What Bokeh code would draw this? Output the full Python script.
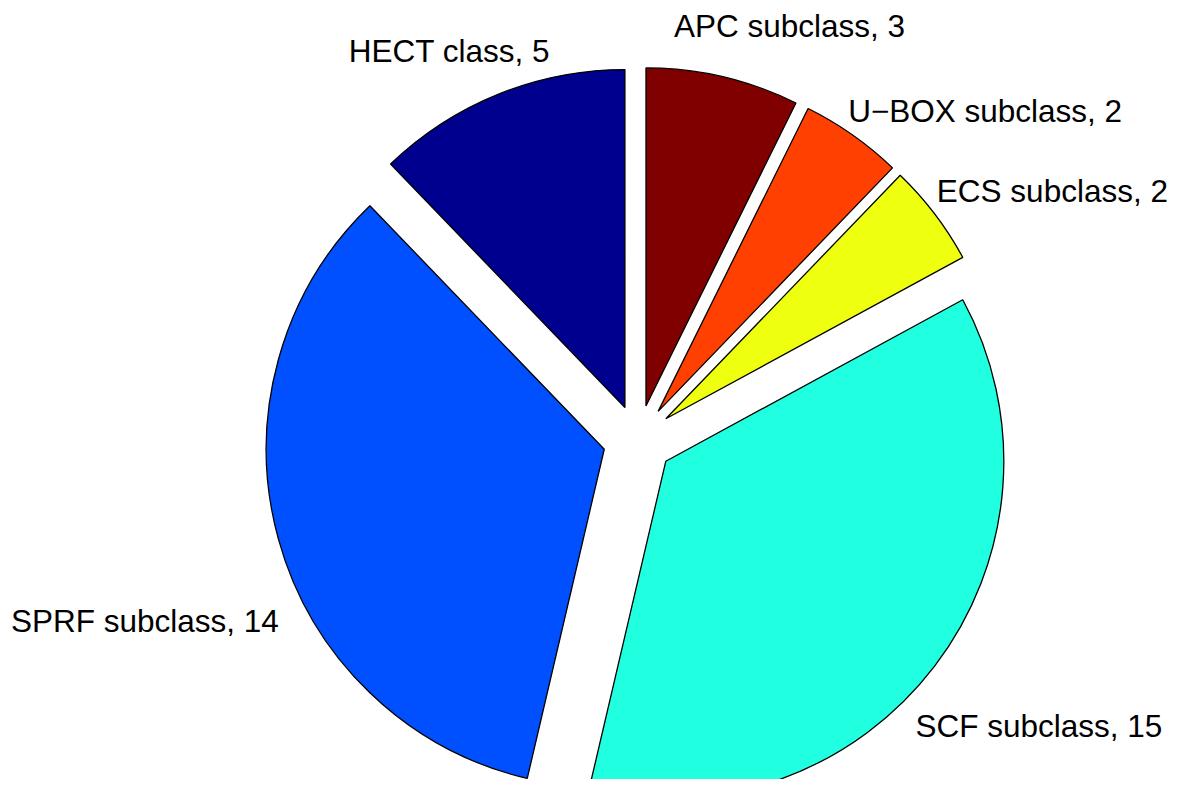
import numpy as np
from bokeh.plotting import figure
from bokeh.models import ColumnDataSource, Range1d
from bokeh.core.properties import value
from bokeh.embed import file_html
from bokeh.resources import INLINE

# ---- data (MATLAB pie order: counter-clockwise from the top) ----
categories = ["HECT class", "SPRF subclass", "SCF subclass", "ECS subclass", "U\u2212BOX subclass", "APC subclass"]
counts = [5, 14, 15, 2, 2, 3]
colors = ["#00008F", "#0050FF", "#20FFDF", "#EFFF10", "#FF4000", "#800000"]

# ---- layout ----
R_PX = 338.0            # pie radius in pixels
EXPLODE = 0.1035        # explode offset (fraction of radius)
W, H = 1168, 779
CX, CY = 637.5, 439.5   # pie centre in figure pixels (from left, from top)
# label anchors (centre / baseline), in radius units relative to the pie centre
LABEL_DY = 0.034
label_pos = [(-0.558, 1.118), (-1.459, -0.570), (1.186, -0.881),
             (1.226, 0.704), (1.027, 0.939), (0.448, 1.190)]

vals = np.array(counts, dtype=float)
frac = vals / vals.sum()
ends = np.pi / 2 + 2 * np.pi * np.cumsum(frac)
starts = ends - 2 * np.pi * frac
mids = (starts + ends) / 2

src = ColumnDataSource(dict(
    x=EXPLODE * np.cos(mids), y=EXPLODE * np.sin(mids),
    start=starts, end=ends, color=colors,
))

p = figure(width=W, height=H, output_backend="svg", toolbar_location=None,
           x_range=Range1d(-CX / R_PX, (W - CX) / R_PX),
           y_range=Range1d(-(H - CY) / R_PX, CY / R_PX),
           min_border=0)
p.axis.visible = False
p.grid.visible = False
p.outline_line_color = None
p.background_fill_color = "white"
p.border_fill_color = "white"

p.wedge(x="x", y="y", radius=1.0, start_angle="start", end_angle="end",
        direction="anticlock", fill_color="color", line_color="black",
        line_width=1.3, source=src)

labels = [f"{c}, {n}" for c, n in zip(categories, counts)]
lsrc = ColumnDataSource(dict(x=[q[0] for q in label_pos],
                             y=[q[1] + LABEL_DY for q in label_pos], text=labels))
p.text(x="x", y="y", text="text", source=lsrc, text_align="center",
       text_baseline="alphabetic", text_font=value("Liberation Sans"),
       text_font_size="31.5px", text_color="black")

open("out.html", "w").write(file_html(p, INLINE))
